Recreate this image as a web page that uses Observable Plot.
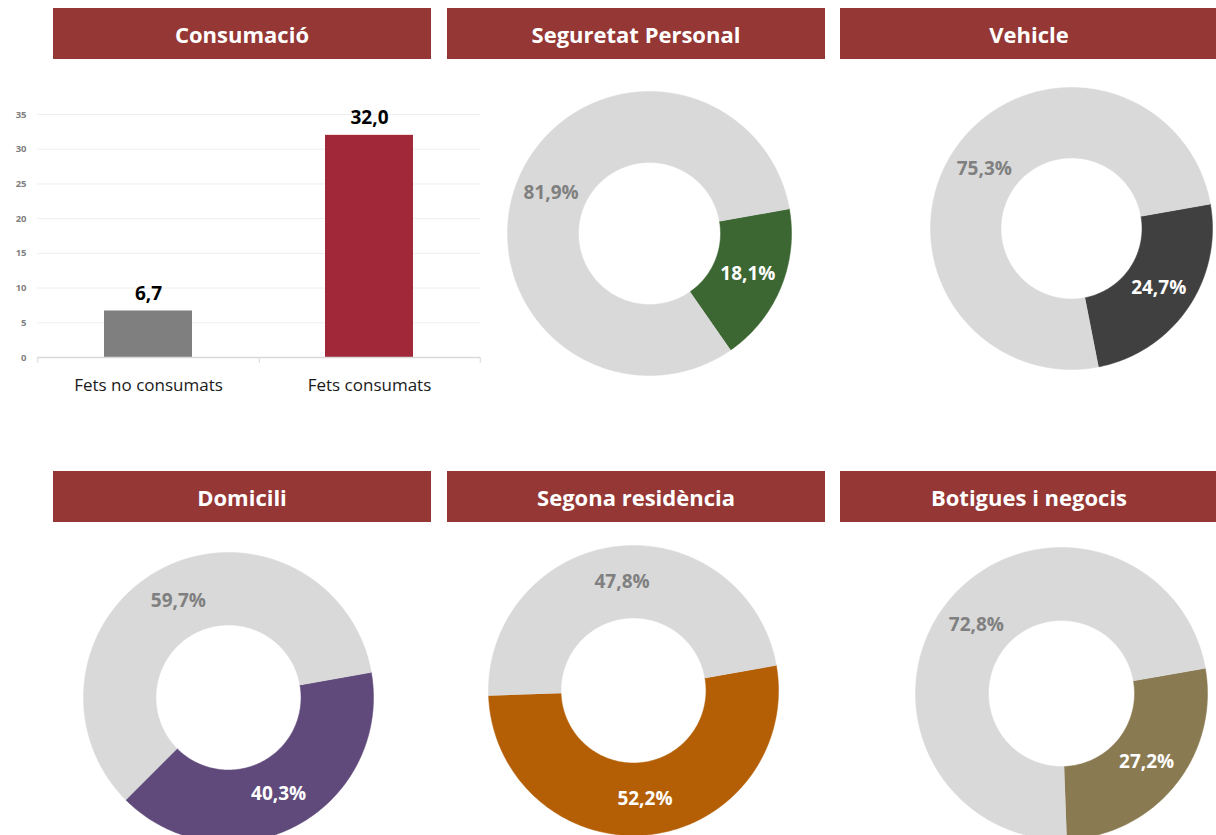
<!DOCTYPE html>
<html><head><meta charset="utf-8">
<script src="https://cdn.jsdelivr.net/npm/d3@7"></script>
<script src="https://cdn.jsdelivr.net/npm/@observablehq/plot@0.6"></script>
<style>
html,body{margin:0;padding:0;background:#fff;overflow:hidden;width:1216px;height:835px;}
#page{position:relative;width:1216px;height:835px;overflow:hidden;font-family:'Open Sans',sans-serif;}
.hdr{position:absolute;width:378px;height:51px;background:#953735;color:#fff;font-weight:700;font-size:22px;display:flex;align-items:center;justify-content:center;white-space:nowrap;}
.panel{position:absolute;line-height:0;}
</style></head><body><div id="page"></div>
<script>
// ---- data ----
const panelTitles = ["Consumació", "Seguretat Personal", "Vehicle", "Domicili", "Segona residència", "Botigues i negocis"];
const barCategories = ["Fets no consumats", "Fets consumats"];
const barValues = [6.7, 32.0];
const yTicks = [0, 5, 10, 15, 20, 25, 30, 35];
const donutTitles = ["Seguretat Personal", "Vehicle", "Domicili", "Segona residència", "Botigues i negocis"];
const donutFocus = [18.1, 24.7, 40.3, 52.2, 27.2];
const donutRest = [81.9, 75.3, 59.7, 47.8, 72.8];

// ---- styles / layout ----
const barColors = ["#7f7f7f", "#a02838"];
const donutColors = ["#3c6632", "#404040", "#604a7b", "#b45f06", "#8a7a52"];
const restColor = "#d9d9d9";
const headerPos = [[53, 8], [447, 8], [840, 8], [53, 471], [447, 471], [840, 471]];
const donutLayout = [
  {cx: 648.5, cy: 233, r: 142},
  {cx: 1071, cy: 228, r: 141},
  {cx: 228, cy: 697, r: 145},
  {cx: 633, cy: 690, r: 145},
  {cx: 1061, cy: 693, r: 146}
];
const startAngle = 80;   // degrees clockwise from 12 o'clock
const innerRatio = 0.5;
const fontFamily = "'Open Sans', sans-serif";
const fmt = v => v.toFixed(1).replace(".", ",");

const page = document.getElementById("page");

// headers
panelTitles.forEach((t, i) => {
  const d = document.createElement("div");
  d.className = "hdr";
  d.style.left = headerPos[i][0] + "px";
  d.style.top = headerPos[i][1] + "px";
  d.textContent = t;
  page.appendChild(d);
});

function place(el, left, top) {
  const w = document.createElement("div");
  w.className = "panel";
  w.style.left = left + "px";
  w.style.top = top + "px";
  w.appendChild(el);
  page.appendChild(w);
}

// ---- bar chart ----
const barData = barCategories.map((c, i) => ({cat: c, value: barValues[i]}));
const halfStep = 110.75;
const bar = Plot.plot({
  width: 482, height: 307,
  marginLeft: 37, marginRight: 2, marginTop: 24, marginBottom: 40,
  style: {fontFamily, background: "transparent", overflow: "visible"},
  x: {domain: barCategories, paddingInner: 0.6, paddingOuter: 0.3, axis: null},
  y: {domain: [0, 35], axis: null},
  marks: [
    Plot.gridY(yTicks, {stroke: "#eeeeee", strokeOpacity: 1}),
    Plot.axisY(yTicks, {label: null, tickSize: 0, tickPadding: 11, fontSize: 9.5, fontWeight: "bold", color: "#7f7f7f", tickFormat: d => String(d)}),
    ...barData.map((d, i) => Plot.barY([d], {x: "cat", y: "value", fill: barColors[i]})),
    Plot.ruleY([0], {stroke: "#d9d9d9", strokeWidth: 1.3}),
    Plot.ruleX(barCategories, {x: d => d, y1: 0, y2: 0, dx: halfStep, insetBottom: -6, stroke: "#d9d9d9"}),
    Plot.ruleX(barCategories.slice(0, 1), {x: d => d, y1: 0, y2: 0, dx: -halfStep, insetBottom: -6, stroke: "#d9d9d9"}),
    Plot.axisX({label: null, tickSize: 0, tickPadding: 21, fontSize: 17, color: "#1a1a1a"}),
    Plot.text(barData, {x: "cat", y: "value", text: d => fmt(d.value), dy: -17, fontSize: 19, fontWeight: "bold", fill: "#000"})
  ]
});
place(bar, 0, 90);

// ---- donuts ----
donutTitles.forEach((title, i) => {
  const {cx, cy, r} = donutLayout[i];
  const slices = [
    {name: "focus", value: donutFocus[i], color: donutColors[i], labelColor: "#ffffff"},
    {name: "rest", value: donutRest[i], color: restColor, labelColor: "#808080"}
  ];
  const total = d3.sum(slices, d => d.value);
  let a = startAngle;
  const rad = deg => deg * Math.PI / 180;
  slices.forEach(s => {
    const a0 = a, a1 = a + s.value / total * 360;
    a = a1;
    const n = Math.max(2, Math.ceil(a1 - a0));
    const ring = [];
    for (let k = 0; k <= n; k++) {
      const t = rad(a0 + (a1 - a0) * k / n);
      ring.push({x: Math.sin(t), y: Math.cos(t)});
    }
    for (let k = n; k >= 0; k--) {
      const t = rad(a0 + (a1 - a0) * k / n);
      ring.push({x: innerRatio * Math.sin(t), y: innerRatio * Math.cos(t)});
    }
    s.ring = ring;
    const m = rad((a0 + a1) / 2);
    const lr = (1 + innerRatio) / 2;
    s.label = {x: lr * Math.sin(m), y: lr * Math.cos(m), text: fmt(s.value) + "%"};
  });
  const pad = 2, S = 2 * r + 2 * pad;
  const chart = Plot.plot({
    width: S, height: S, margin: pad,
    style: {fontFamily, background: "transparent", overflow: "visible"},
    x: {domain: [-1, 1], axis: null},
    y: {domain: [-1, 1], axis: null},
    marks: [
      ...slices.map(s => Plot.line(s.ring, {x: "x", y: "y", fill: s.color, stroke: s.color, strokeWidth: 0.5})),
      ...slices.map(s => Plot.text([s.label], {x: "x", y: "y", text: "text", fill: s.labelColor, fontSize: 19, fontWeight: "bold"}))
    ]
  });
  chart.setAttribute("aria-label", title);
  place(chart, cx - S / 2, cy - S / 2);
});
</script>
</body></html>
